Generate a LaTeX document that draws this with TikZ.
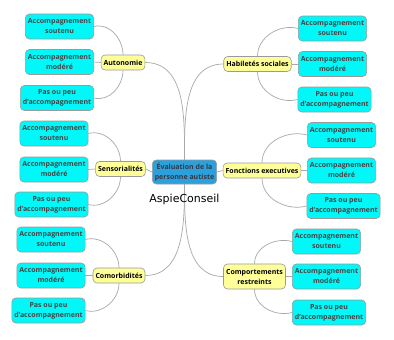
\documentclass[tikz,border=0pt]{standalone}
\usepackage{fontspec}
\setmainfont{Open Sans}
\newfontfamily\djv{DejaVu Sans}
\usetikzlibrary{backgrounds}
\definecolor{cyanbox}{HTML}{00F8F8}
\definecolor{yellowbox}{HTML}{FFFF99}
\definecolor{bluebox}{HTML}{2D9FDA}
\definecolor{boxline}{HTML}{9A9A9A}
\definecolor{linkgray}{HTML}{A8A8A8}
\definecolor{leaftext}{HTML}{444444}
\definecolor{centtext}{HTML}{333A44}
\begin{document}
\begin{tikzpicture}[x=1bp,y=1bp,
  basebox/.style={draw=boxline, rounded corners=4bp, line width=0.6bp, align=center,
    inner xsep=2.5bp, inner ysep=1bp, font=\fontsize{7bp}{10bp}\selectfont\bfseries},
  leaf/.style={basebox, fill=cyanbox, minimum width=65bp, minimum height=25bp, text=leaftext},
  topic/.style={basebox, fill=yellowbox, minimum height=15bp, text=black},
  central/.style={basebox, fill=bluebox, minimum width=59bp, minimum height=24bp, text=centtext},
  link/.style={draw=linkgray, line width=0.7bp}]
\useasboundingbox (0,0) rectangle (394,-340);

% central
\node[central] (c) at (184.5,-172) {Évaluation de la\\personne autiste};
\node[font=\djv\fontsize{11bp}{13bp}\selectfont, text=black] (asp) at (184.5,-199) {AspieConseil};

% topics
\node[topic] (auto) at (123,-62.5) {Autonomie};
\node[topic] (hab) at (257.5,-64) {Habiletés sociales};
\node[topic] (sens) at (120.5,-169) {Sensorialités};
\node[topic] (fonc) at (262,-170.5) {Fonctions executives};
\node[topic] (como) at (119,-275.5) {Comorbidités};
\node[topic, minimum height=25bp] (comp) at (254.5,-276.5) {Comportements\\restreints};

% leaves
\node[leaf] (as1) at (59.5,-26.5) {Accompagnement\\soutenu};
\node[leaf] (am1) at (59.5,-62) {Accompagnement\\modéré};
\node[leaf] (pp1) at (57,-98) {Pas ou peu\\d'accompagnement};

\node[leaf] (as2) at (332.5,-28.5) {Accompagnement\\soutenu};
\node[leaf] (am2) at (332.5,-64) {Accompagnement\\modéré};
\node[leaf] (pp2) at (334.5,-99.5) {Pas ou peu\\d'accompagnement};

\node[leaf] (as3) at (54,-133.5) {Accompagnement\\soutenu};
\node[leaf] (am3) at (54,-169.5) {Accompagnement\\modéré};
\node[leaf] (pp3) at (51.5,-204.5) {Pas ou peu\\d'accompagnement};

\node[leaf] (as4) at (341.5,-135) {Accompagnement\\soutenu};
\node[leaf] (am4) at (341.5,-170.5) {Accompagnement\\modéré};
\node[leaf] (pp4) at (343.5,-206) {Pas ou peu\\d'accompagnement};

\node[leaf] (as5) at (51,-239.5) {Accompagnement\\soutenu};
\node[leaf] (am5) at (51,-275.5) {Accompagnement\\modéré};
\node[leaf] (pp5) at (48.5,-310.5) {Pas ou peu\\d'accompagnement};

\node[leaf] (as6) at (326.5,-241.5) {Accompagnement\\soutenu};
\node[leaf] (am6) at (326.5,-276.5) {Accompagnement\\modéré};
\node[leaf] (pp6) at (329,-312.5) {Pas ou peu\\d'accompagnement};

\begin{scope}[on background layer]
\fill[white] (0,0) rectangle (394,-340);
% central links
\draw[link] (auto.east) to[out=0,in=90] (c.north);
\draw[link] (hab.west) to[out=180,in=90] (c.north);
\draw[link] (sens.east) -- (c.west);
\draw[link] (c.east) -- (fonc.west);
\draw[link] (como.east) to[out=0,in=-90] (c.south);
\draw[link] (comp.west) to[out=180,in=-90] (c.south);
% left groups
\foreach \t/\a/\b/\p in {auto/as1/am1/pp1, sens/as3/am3/pp3, como/as5/am5/pp5}{
  \draw[link] (\a.east) to[out=15,in=90] (\t.north);
  \draw[link] (\b.east) -- (\t.west);
  \draw[link] (\p.east) to[out=-15,in=-90] (\t.south);
}
% right groups
\foreach \t/\a/\b/\p in {hab/as2/am2/pp2, fonc/as4/am4/pp4, comp/as6/am6/pp6}{
  \draw[link] (\t.north) to[out=90,in=165] (\a.west);
  \draw[link] (\t.east) -- (\b.west);
  \draw[link] (\t.south) to[out=-90,in=195] (\p.west);
}
\end{scope}
\end{tikzpicture}
\end{document}
